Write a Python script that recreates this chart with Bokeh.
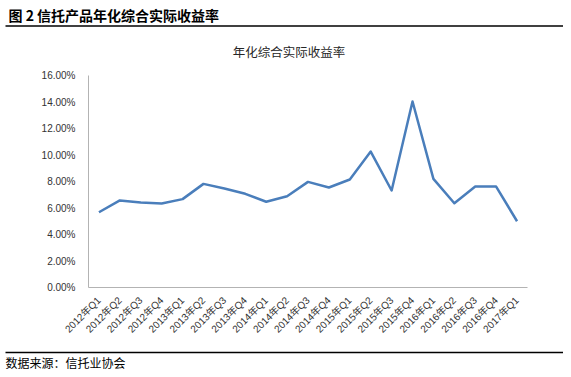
import math
from bokeh.plotting import figure
from bokeh.models import (Range1d, NumeralTickFormatter, FixedTicker, LinearAxis)
from bokeh.core.properties import value
from bokeh.embed import file_html
from bokeh.resources import INLINE

# ---- data ----
quarters = ["2012年Q1", "2012年Q2", "2012年Q3", "2012年Q4",
            "2013年Q1", "2013年Q2", "2013年Q3", "2013年Q4",
            "2014年Q1", "2014年Q2", "2014年Q3", "2014年Q4",
            "2015年Q1", "2015年Q2", "2015年Q3", "2015年Q4",
            "2016年Q1", "2016年Q2", "2016年Q3", "2016年Q4",
            "2017年Q1"]
yield_pct = [5.68, 6.57, 6.41, 6.34,
             6.67, 7.82, 7.47, 7.07,
             6.47, 6.89, 7.97, 7.55,
             8.15, 10.26, 7.32, 14.04,
             8.20, 6.36, 7.62, 7.62,
             5.00]
y_ticks = [0.00, 0.02, 0.04, 0.06, 0.08, 0.10, 0.12, 0.14, 0.16]

header_text = "图 2 信托产品年化综合实际收益率"
chart_title = "年化综合实际收益率"
source_text = "数据来源：信托业协会"

# ---- geometry (canvas pixels) ----
W, H = 563, 369
PL, PR, PT, PB = 88, 527, 75, 287          # plot area inside canvas
n = len(quarters)
step = (PR - PL) / n
x_start = -0.5 - PL / step
x_end = x_start + W / step
ymax = y_ticks[-1]
k = (PB - PT) / ymax
y_end = ymax + PT / k
y_start = -(H - PB) / k

CJK = "Noto Sans CJK SC"
LAT = "'Liberation Sans', 'Noto Sans CJK SC'"

p = figure(width=W, height=H, output_backend="svg", toolbar_location=None,
           x_range=Range1d(x_start, x_end), y_range=Range1d(y_start, y_end),
           x_axis_type=None, y_axis_type=None, min_border=0,
           outline_line_color=None)
p.grid.visible = False
p.extra_x_ranges = {"px": Range1d(0, W)}
p.extra_y_ranges = {"px": Range1d(H, 0)}

x_idx = list(range(n))
p.line(x=x_idx, y=[v / 100 for v in yield_pct], line_color="#4a7ebb",
       line_width=2.5, line_join="round")

yaxis = LinearAxis(fixed_location=-0.5, bounds=(0, ymax),
                   ticker=FixedTicker(ticks=y_ticks),
                   formatter=NumeralTickFormatter(format="0.00%"),
                   major_tick_line_color=None, minor_tick_line_color=None,
                   axis_line_color="#b3b3b3", axis_line_width=1,
                   major_label_text_font=LAT, major_label_text_font_size="10px",
                   major_label_text_color="#333333", major_label_standoff=7)
p.add_layout(yaxis, "left")

xaxis = LinearAxis(fixed_location=0, bounds=(-0.5, n - 0.5),
                   ticker=FixedTicker(ticks=x_idx),
                   major_label_overrides={i: q for i, q in enumerate(quarters)},
                   major_tick_line_color=None, minor_tick_line_color=None,
                   axis_line_color="#b3b3b3", axis_line_width=1,
                   major_label_orientation=math.pi / 4,
                   major_label_text_font=LAT, major_label_text_font_size="10px",
                   major_label_text_color="#333333", major_label_standoff=5)
p.add_layout(xaxis, "below")

# header, chart title, footer
p.text(x=[8], y=[14.5], text=[header_text], text_font=value(CJK),
       text_font_style="bold", text_font_size="14px", text_color="black",
       text_baseline="middle", text_align="left",
       x_range_name="px", y_range_name="px")
p.segment(x0=[5], y0=[25.5], x1=[W], y1=[25.5], line_color="black", line_width=1.5,
          x_range_name="px", y_range_name="px")
p.text(x=[288.5], y=[51], text=[chart_title], text_font=value(CJK),
       text_font_size="12.5px", text_color="#262626",
       text_baseline="middle", text_align="center",
       x_range_name="px", y_range_name="px")
p.segment(x0=[5], y0=[352], x1=[W], y1=[352], line_color="black", line_width=1.5,
          x_range_name="px", y_range_name="px")
p.text(x=[5], y=[361.5], text=[source_text], text_font=value(CJK),
       text_font_size="12px", text_color="black",
       text_baseline="middle", text_align="left",
       x_range_name="px", y_range_name="px")

open("out.html", "w").write(file_html(p, INLINE))
